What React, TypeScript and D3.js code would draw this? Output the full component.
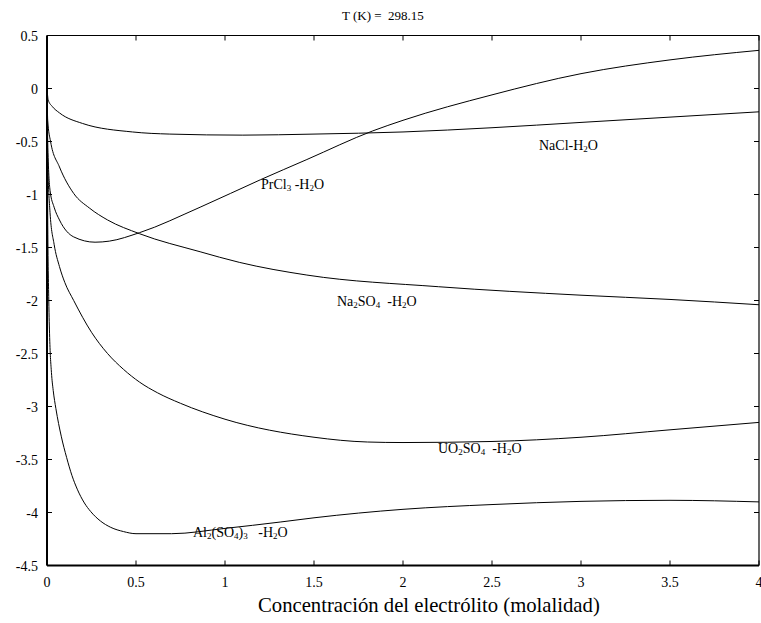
import React, { useEffect, useRef } from "react";
import * as d3 from "d3";

// molality (x) and value (y) for each electrolyte
const naclX = [0, 0.007, 0.03, 0.07, 0.2, 0.48, 0.69, 1.1, 1.5, 2, 2.5, 3, 3.5, 4];
const naclY = [0, -0.11, -0.17, -0.23, -0.33, -0.41, -0.43, -0.44, -0.43, -0.41, -0.37, -0.32, -0.27, -0.22];

const prclX = [0, 0.004, 0.017, 0.04, 0.07, 0.15, 0.27, 0.35, 0.52, 0.86, 1.2, 1.46, 1.83, 2, 2.5, 3, 3.5, 4];
const prclY = [0, -0.5, -0.96, -1.12, -1.24, -1.4, -1.45, -1.44, -1.36, -1.12, -0.86, -0.67, -0.4, -0.3, -0.06, 0.14, 0.27, 0.36];

const na2so4X = [0, 0.004, 0.02, 0.07, 0.15, 0.24, 0.34, 0.52, 0.86, 1.08, 1.46, 2.2, 3, 3.5, 4];
const na2so4Y = [0, -0.3, -0.5, -0.74, -0.99, -1.13, -1.24, -1.37, -1.54, -1.64, -1.76, -1.87, -1.95, -1.99, -2.04];

const uo2so4X = [0, 0.003, 0.017, 0.04, 0.07, 0.1, 0.15, 0.25, 0.34, 0.43, 0.52, 0.62, 0.75, 1, 1.5, 1.8, 2, 2.5, 3, 3.5, 4];
const uo2so4Y = [0, -0.6, -1.17, -1.47, -1.68, -1.83, -2.0, -2.3, -2.5, -2.65, -2.77, -2.87, -2.97, -3.12, -3.29, -3.335, -3.34, -3.33, -3.29, -3.22, -3.15];

const al2so43X = [0, 0.002, 0.004, 0.01, 0.015, 0.025, 0.035, 0.05, 0.08, 0.11, 0.14, 0.17, 0.21, 0.245, 0.3, 0.358, 0.43, 0.5, 0.7, 1, 1.31, 1.5, 2, 2.5, 3, 3.5, 4];
const al2so43Y = [0, -0.6, -1.2, -2.0, -2.35, -2.68, -2.85, -3.02, -3.28, -3.48, -3.65, -3.78, -3.91, -3.99, -4.08, -4.14, -4.18, -4.2, -4.2, -4.15, -4.09, -4.05, -3.97, -3.925, -3.895, -3.885, -3.9];

const xTicks = [0, 0.5, 1, 1.5, 2, 2.5, 3, 3.5, 4];
const yTicks = [0.5, 0, -0.5, -1, -1.5, -2, -2.5, -3, -3.5, -4, -4.5];

// label parts: [text, isSubscript]
const labels: { x: number; y: number; parts: [string, boolean][] }[] = [
	{ x: 539, y: 150, parts: [["NaCl-H", false], ["2", true], ["O", false]] },
	{ x: 261, y: 189, parts: [["PrCl", false], ["3", true], [" -H", false], ["2", true], ["O", false]] },
	{ x: 337, y: 306, parts: [["Na", false], ["2", true], ["SO", false], ["4", true], ["  -H", false], ["2", true], ["O", false]] },
	{ x: 438, y: 453, parts: [["UO", false], ["2", true], ["SO", false], ["4", true], ["  -H", false], ["2", true], ["O", false]] },
	{ x: 193, y: 537, parts: [["Al", false], ["2", true], ["(SO", false], ["4", true], [")", false], ["3", true], ["   -H", false], ["2", true], ["O", false]] },
];

const W = 761;
const H = 623;
const margin = { top: 35.5, right: 2, bottom: 57.5, left: 47 };
const FONT = '"Liberation Serif", "DejaVu Serif", serif';

export default function App() {
	const ref = useRef<SVGSVGElement>(null);

	useEffect(() => {
		document.body.style.margin = "0";
		const svg = d3.select(ref.current);
		svg.selectAll("*").remove();

		const x = d3.scaleLinear().domain([0, 4]).range([margin.left, W - margin.right]);
		const y = d3.scaleLinear().domain([-4.5, 0.5]).range([H - margin.bottom, margin.top]);

		const series = [
			[naclX, naclY],
			[prclX, prclY],
			[na2so4X, na2so4Y],
			[uo2so4X, uo2so4Y],
			[al2so43X, al2so43Y],
		];

		const line = d3
			.line<[number, number]>()
			.x((d) => x(d[0]))
			.y((d) => y(d[1]))
			.curve(d3.curveMonotoneX);

		series.forEach(([xs, ys]) => {
			const pts = xs.map((v, i) => [v, ys[i]] as [number, number]);
			svg
				.append("path")
				.attr("d", line(pts))
				.attr("fill", "none")
				.attr("stroke", "#000")
				.attr("stroke-width", 1);
		});

		// frame
		const [x0, x1] = x.range();
		const [y0, y1] = y.range();
		svg.append("line").attr("x1", x0).attr("x2", x1).attr("y1", y1).attr("y2", y1).attr("stroke", "#000").attr("stroke-width", 1.2);
		svg.append("line").attr("x1", x1).attr("x2", x1).attr("y1", y1).attr("y2", y0).attr("stroke", "#000").attr("stroke-width", 1.2);
		svg.append("line").attr("x1", x0).attr("x2", x1).attr("y1", y0).attr("y2", y0).attr("stroke", "#000").attr("stroke-width", 2);
		svg.append("line").attr("x1", x0).attr("x2", x0).attr("y1", y1).attr("y2", y0).attr("stroke", "#000").attr("stroke-width", 2);

		// inward ticks
		const tk = 5;
		xTicks.forEach((t) => {
			svg.append("line").attr("x1", x(t)).attr("x2", x(t)).attr("y1", y0).attr("y2", y0 - tk).attr("stroke", "#000");
			svg.append("line").attr("x1", x(t)).attr("x2", x(t)).attr("y1", y1).attr("y2", y1 + tk).attr("stroke", "#000");
			svg
				.append("text")
				.attr("x", x(t))
				.attr("y", y0 + 21)
				.attr("text-anchor", "middle")
				.style("font-family", FONT)
				.style("font-size", "14px")
				.text(String(t));
		});
		yTicks.forEach((t) => {
			svg.append("line").attr("x1", x0).attr("x2", x0 + tk).attr("y1", y(t)).attr("y2", y(t)).attr("stroke", "#000");
			svg.append("line").attr("x1", x1).attr("x2", x1 - tk).attr("y1", y(t)).attr("y2", y(t)).attr("stroke", "#000");
			svg
				.append("text")
				.attr("x", x0 - 9)
				.attr("y", y(t) + 5)
				.attr("text-anchor", "end")
				.style("font-family", FONT)
				.style("font-size", "14px")
				.text(String(t));
		});

		// title and axis label
		svg
			.append("text")
			.attr("x", 342)
			.attr("y", 20)
			.style("font-family", FONT)
			.style("font-size", "13px")
			.style("white-space", "pre")
			.text("T (K) =  298.15");
		svg
			.append("text")
			.attr("x", 258)
			.attr("y", 612)
			.style("font-family", FONT)
			.style("font-size", "20.7px")
			.text("Concentración del electrólito (molalidad)");

		// curve labels with subscripts
		labels.forEach((lb) => {
			const t = svg
				.append("text")
				.attr("x", lb.x)
				.attr("y", lb.y)
				.style("font-family", FONT)
				.style("font-size", "14px")
				.style("white-space", "pre");
			lb.parts.forEach(([s, sub]) => {
				t.append("tspan")
					.style("font-size", sub ? "9px" : "14px")
					.attr("baseline-shift", sub ? "-25%" : null)
					.text(s);
			});
		});
	}, []);

	return <svg ref={ref} width={W} height={H} style={{ display: "block", background: "#fff" }} />;
}
